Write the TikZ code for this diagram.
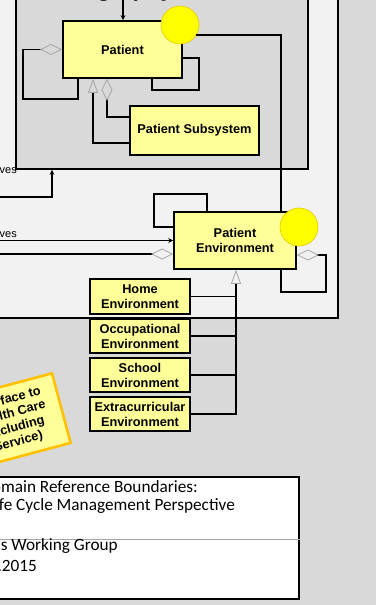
\documentclass[tikz,border=0pt]{standalone}
\usepackage{fontspec}
\setmainfont{Liberation Sans}
\newfontfamily\titlefont{Carlito}
\usetikzlibrary{arrows.meta,calc}
\definecolor{canvas}{HTML}{D9D9D9}
\definecolor{paper}{HTML}{F2F2F2}
\definecolor{classfill}{HTML}{FFFF99}
\definecolor{ballfill}{HTML}{FFFF00}
\definecolor{ballline}{HTML}{E6C800}
\definecolor{noteline}{HTML}{FFC000}
\definecolor{tipgray}{HTML}{A6A6A6}
\begin{document}
\begin{tikzpicture}[x=1bp,y=-1bp,
  classbox/.style={draw=black, line width=1.6bp, fill=classfill, inner sep=0pt,
    align=center, font=\bfseries\fontsize{12.8}{15}\selectfont},
  frame/.style={draw=black, line width=1.6bp, inner sep=0pt},
  ball/.style={circle, fill=ballfill, draw=ballline, line width=0.6bp,
    minimum size=38bp, inner sep=0pt},
  wire/.style={draw=black, line width=1.6bp},
  agg/.style={-{Diamond[open, color=tipgray, line width=0.8bp, length=22bp, width=11bp]}},
  gen/.style={-{Triangle[open, color=tipgray, line width=0.8bp, length=14bp, width=10bp]}},
  nav/.style={-{Stealth[length=5bp, width=5bp]}},
  rolelabel/.style={font=\fontsize{11}{12}\selectfont, inner sep=0pt, anchor=base east},
  titleline/.style={font=\titlefont\fontsize{17.3}{19}\selectfont, inner sep=0pt, anchor=base east},
  notebox/.style={draw=noteline, line width=2.6bp, fill=classfill, inner sep=0pt,
    align=center, font=\bfseries\fontsize{12.8}{14.5}\selectfont},
]
\useasboundingbox (0,0) rectangle (376,605);
\fill[canvas] (0,0) rectangle (376,605);

% package frames
\node[frame, fill=paper, minimum width=378bp, minimum height=358bp] (outer) at (149,139) {};
\node[frame, fill=canvas, minimum width=292bp, minimum height=209bp] (inner) at (162,64.5) {};
\node[font=\bfseries\fontsize{23}{26}\selectfont, inner sep=0pt, anchor=base west] (pkgtitle) at (33,-3.5) {Demography};

% classes
\node[classbox, minimum width=119bp, minimum height=57bp] (pat) at (122.5,49.5) {Patient};
\node[classbox, minimum width=129bp, minimum height=49bp] (ps) at (194.5,130.5) {Patient Subsystem};
\node[classbox, minimum width=122bp, minimum height=57bp] (pe) at (235,240.5) {Patient\\Environment};
\node[classbox, minimum width=100bp, minimum height=35bp] (home) at (140,296.5) {Home\\Environment};
\node[classbox, minimum width=100bp, minimum height=34bp] (occ) at (140,336) {Occupational\\Environment};
\node[classbox, minimum width=100bp, minimum height=34bp] (school) at (140,375) {School\\Environment};
\node[classbox, minimum width=100bp, minimum height=34bp] (extra) at (140,414) {Extracurricular\\Environment};

% interface balls
\node[ball] (cp) at (180,25) {};
\node[ball] (cpe) at (299,227) {};

% Patient associations
\coordinate (topin) at (123,-5);
\draw[wire, nav] (topin) -- (topin |- pat.north);
\draw[wire, agg] (78,0 |- pat.south) |- (23,99) |- (pat.west);
\draw[wire] (pat.east |- 0,58) -| (199,90) -| (152,0 |- pat.south);
\draw[wire, agg] (ps.west |- 0,117) -| (107,0 |- pat.south);
\draw[wire, gen] (ps.west |- 0,143) -| (93,0 |- pat.south);
\draw[wire] (cp.-32) -| (281,0 |- pe.north);

% incoming links from the left
\coordinate (lin0) at (-5,197);
\coordinate (lin1) at (-5,240.5);
\coordinate (lin2) at (-5,254);
\draw[wire, nav] (lin0) -| (52,0 |- inner.south);
\draw[wire, nav] (lin1) -- (pe.west);
\draw[wire, agg] (lin2) -- (lin2 -| pe.west);
\node[rolelabel] (role0) at (17,174) {involves};
\node[rolelabel] (role1) at (17,237) {involves};

% Patient Environment associations
\draw[wire] (207,0 |- pe.north) |- (154,194) |- (pe.west |- 0,227);
\draw[wire, agg] (281,0 |- pe.south) |- (326,292) |- (pe.east |- 0,255);

% environment specialisations
\coordinate (trunk) at (236,0);
\draw[wire] (home.east) -- (trunk |- home.east);
\draw[wire] (occ.east) -- (trunk |- occ.east);
\draw[wire] (school.east) -- (trunk |- school.east);
\draw[wire, gen] (extra.east) -| (trunk |- pe.south);

% note
\node[notebox, rotate=15, minimum width=100bp, minimum height=72bp] (note) at (13,421)
  {Interface to\\Health Care\\(including\\Service)};

% title block
\node[draw=black, line width=1.6bp, fill=white, minimum width=319bp, minimum height=122bp, inner sep=0pt] (title) at (139.5,538) {};
\draw[gray!70, line width=0.8bp] (title.west |- 0,539) -- (title.east |- 0,539);
\node[titleline] (t1) at (198,492) {Patient Domain Reference Boundaries:};
\node[titleline] (t2) at (235,510) {Patient Life Cycle Management Perspective};
\node[titleline] (t3) at (118,550) {Patient Domains Working Group};
\node[titleline] (t4) at (37,571) {01.01.2015};
\end{tikzpicture}
\end{document}
